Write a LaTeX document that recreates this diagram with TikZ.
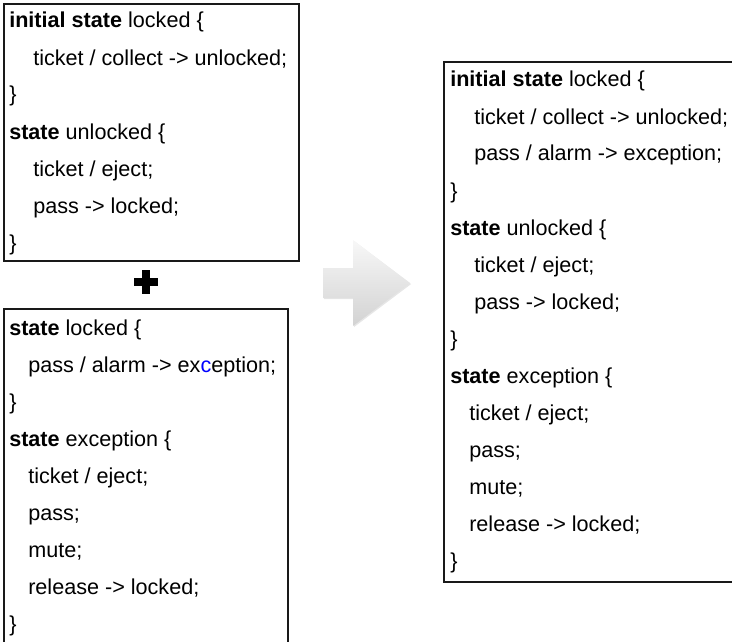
\documentclass[tikz,border=0pt]{standalone}
\usepackage{fontspec}
\setmainfont{Liberation Sans}
\usetikzlibrary{shadows}
\begin{document}
\begin{tikzpicture}[x=0.75pt,y=-0.75pt,
  line/.style={anchor=base west, inner sep=0pt, font=\fontsize{16.2}{20}\selectfont},
  frame/.style={draw=black!90, line width=1.3pt}]
\clip (0,0) rectangle (732,642);
% first machine
\draw[frame] (4,4) rectangle (299,261);
\node[line] (a0) at (9,28) {\textbf{initial state} locked \{};
\node[line] (a1) at (33,65) {ticket / collect -> unlocked;};
\node[line] (a2) at (9,102) {\}};
\node[line] (a3) at (9,139) {\textbf{state} unlocked \{};
\node[line] (a4) at (33,176) {ticket / eject;};
\node[line] (a5) at (33,213) {pass -> locked;};
\node[line] (a6) at (9,250) {\}};
% plus sign
\draw[line width=6pt] (134,282) -- (158,282);
\draw[line width=6pt] (146,270) -- (146,294);
% second machine
\draw[frame] (4,309) rectangle (288,660);
\node[line] (b0) at (9,335) {\textbf{state} locked \{};
\node[line] (b1) at (28,372) {pass / alarm -> ex{\color{blue}c}eption;};
\node[line] (b2) at (9,409) {\}};
\node[line] (b3) at (9,446) {\textbf{state} exception \{};
\node[line] (b4) at (28,483) {ticket / eject;};
\node[line] (b5) at (28,520) {pass;};
\node[line] (b6) at (28,557) {mute;};
\node[line] (b7) at (28,594) {release -> locked;};
\node[line] (b8) at (9,631) {\}};
% merge arrow
\shade[top color=gray!6, bottom color=gray!35,
  drop shadow={opacity=0.2, shadow xshift=0.8pt, shadow yshift=-0.8pt}]
  (323,268) -- (353,268) -- (353,240) -- (410,283) -- (353,326)
  -- (353,298) -- (323,298) -- cycle;
% merged machine
\draw[frame] (444,62) rectangle (745,582);
\node[line] (c0) at (450,87) {\textbf{initial state} locked \{};
\node[line] (c1) at (474,124) {ticket / collect -> unlocked;};
\node[line] (c2) at (474,161) {pass / alarm -> exception;};
\node[line] (c3) at (450,198) {\}};
\node[line] (c4) at (450,235) {\textbf{state} unlocked \{};
\node[line] (c5) at (474,272) {ticket / eject;};
\node[line] (c6) at (474,309) {pass -> locked;};
\node[line] (c7) at (450,346) {\}};
\node[line] (c8) at (450,383) {\textbf{state} exception \{};
\node[line] (c9) at (469,420) {ticket / eject;};
\node[line] (c10) at (469,457) {pass;};
\node[line] (c11) at (469,494) {mute;};
\node[line] (c12) at (469,531) {release -> locked;};
\node[line] (c13) at (450,568) {\}};
\end{tikzpicture}
\end{document}
